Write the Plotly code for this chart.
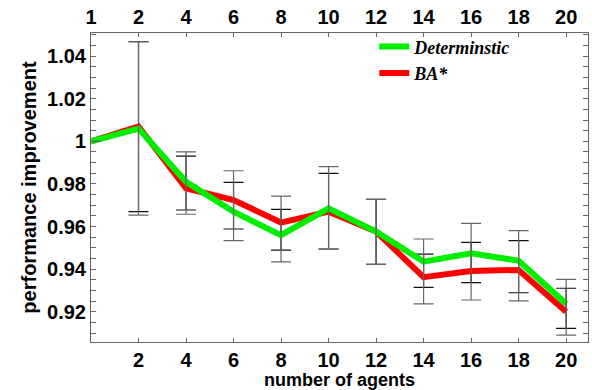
import plotly.graph_objects as go

# ---- data ----
agents = [1, 2, 4, 6, 8, 10, 12, 14, 16, 18, 20]
deterministic = [1.000, 1.006, 0.981, 0.967, 0.956, 0.9686, 0.9577, 0.9436, 0.9475, 0.944, 0.9238]
ba_star = [1.000, 1.007, 0.978, 0.9725, 0.9619, 0.967, 0.9577, 0.9363, 0.9392, 0.9397, 0.9201]

# error bar bounds (two sets)
err_a_hi = [1.000, 1.0467, 0.9931, 0.9808, 0.9681, 0.985, 0.9728, 0.9471, 0.9526, 0.9534, 0.9311]
err_a_lo = [1.000, 0.9670, 0.9678, 0.9589, 0.9490, 0.9495, 0.9423, 0.9315, 0.9337, 0.9290, 0.9123]
err_b_hi = [1.000, 1.0467, 0.9951, 0.9862, 0.9743, 0.9881, 0.9728, 0.9542, 0.9615, 0.9581, 0.9353]
err_b_lo = [1.000, 0.9654, 0.9658, 0.9534, 0.9435, 0.9495, 0.9423, 0.9238, 0.9256, 0.9252, 0.9091]

y_ticks = [0.92, 0.94, 0.96, 0.98, 1.0, 1.02, 1.04]

pos = list(range(len(agents)))
labels = [str(a) for a in agents]

fig = go.Figure()

def add_err(hi, lo, color, xaxis):
    mid = [(h + l) / 2 for h, l in zip(hi, lo)]
    fig.add_trace(go.Scatter(
        x=pos, y=mid, mode="markers", xaxis=xaxis,
        marker=dict(size=1, color="rgba(0,0,0,0)"),
        error_y=dict(type="data", symmetric=False,
                     array=[h - m for h, m in zip(hi, mid)],
                     arrayminus=[m - l for m, l in zip(mid, lo)],
                     color=color, thickness=1.2, width=10),
        showlegend=False, hoverinfo="skip"))

add_err(err_b_hi, err_b_lo, "#666666", "x2")
add_err(err_a_hi, err_a_lo, "#111111", "x")

fig.add_trace(go.Scatter(x=pos, y=ba_star, mode="lines", name="BA*",
                         line=dict(color="#ff0000", width=6), legendrank=2))
fig.add_trace(go.Scatter(x=pos, y=deterministic, mode="lines", name="Determinstic",
                         line=dict(color="#00ee00", width=6), legendrank=1))

sans = "Liberation Sans, Arial, sans-serif"
tick_font = dict(family=sans, size=20, color="black", weight="bold")
axis_col = "#666666"
xrange = [0, 10.46]

fig.update_layout(
    width=592, height=390,
    margin=dict(l=91, r=4, t=33, b=48, autoexpand=False),
    plot_bgcolor="white", paper_bgcolor="white",
    showlegend=True,
    legend=dict(x=0.57, y=1.015, xanchor="left", yanchor="top",
                bgcolor="rgba(0,0,0,0)", tracegroupgap=0,
                font=dict(family="Liberation Serif, Times New Roman, serif", size=18,
                          style="italic", weight="bold", color="black")),
    xaxis=dict(range=xrange, tickmode="array", tickvals=pos[1:], ticktext=labels[1:],
               ticks="inside", ticklen=4, tickcolor=axis_col, automargin=False,
               showline=True, linecolor=axis_col, linewidth=1,
               showgrid=False, zeroline=False, tickfont=tick_font,
               title=dict(text="number of agents",
                          font=dict(family=sans, size=18, color="black", weight="bold"),
                          standoff=17)),
    xaxis2=dict(range=xrange, overlaying="x", side="top", anchor="y", matches="x",
                tickmode="array", tickvals=pos, ticktext=labels, automargin=False,
                ticks="inside", ticklen=4, tickcolor=axis_col,
                showline=True, linecolor=axis_col, linewidth=1,
                showgrid=False, zeroline=False, tickfont=tick_font),
    yaxis=dict(range=[0.9059, 1.0508], tickmode="array", tickvals=y_ticks,
               ticktext=[("%g" % v) for v in y_ticks], automargin=False,
               ticks="inside", ticklen=5, tickcolor=axis_col,
               minor=dict(dtick=0.005, tick0=0.9, ticks="inside", ticklen=3, tickcolor=axis_col),
               showline=True, linecolor=axis_col, linewidth=1, mirror="allticks",
               showgrid=False, zeroline=False, tickfont=tick_font,
               title=dict(text="performance improvement",
                          font=dict(family=sans, size=20, color="black", weight="bold"),
                          standoff=5)),
)

fig.write_html("out.html")
